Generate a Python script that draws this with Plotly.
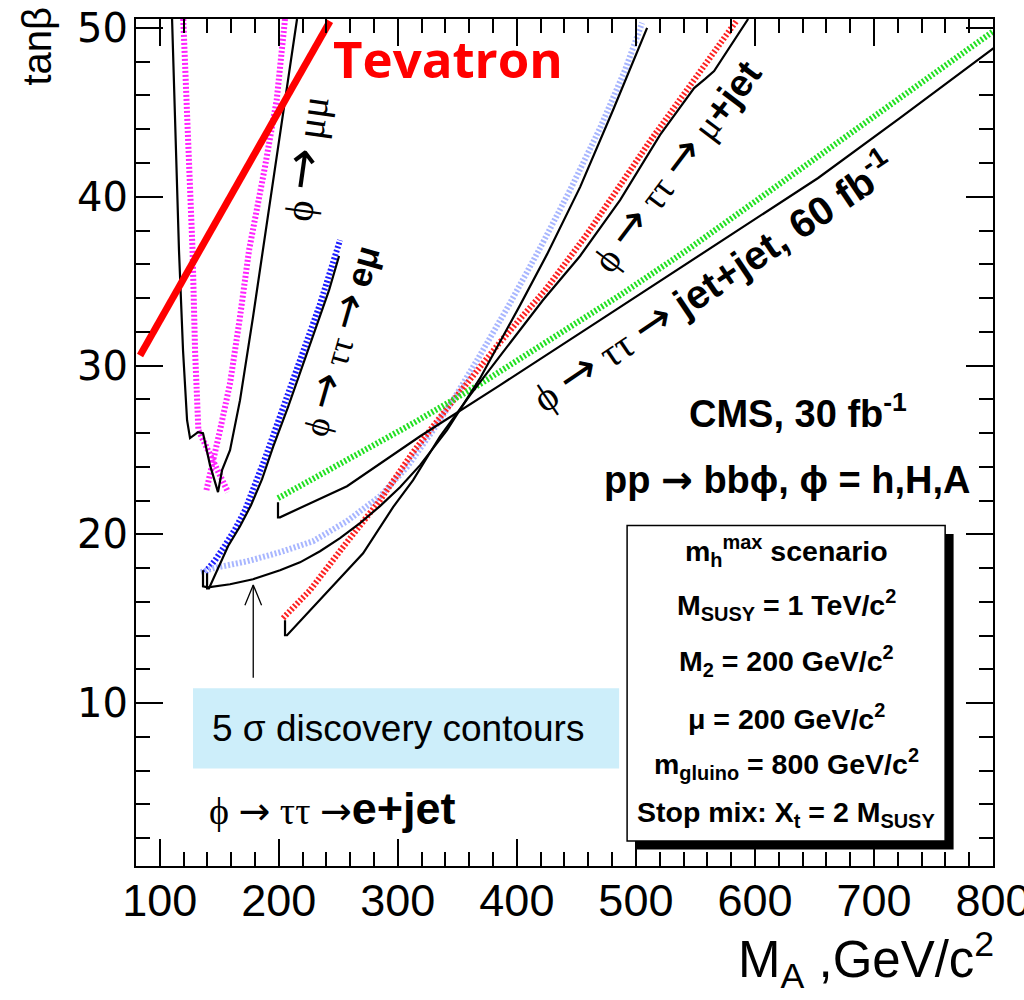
import plotly.graph_objects as go

# ---------------------------------------------------------------------------
# Axis ranges
X_RANGE = [80, 800.01]
Y_RANGE = [0.35, 50.53]

# Tevatron reach
tevatron_ma = [83.4, 243.0]
tevatron_tb = [30.6, 50.4]

# phi -> mu mu, solid contour
mumu_ma = [110.3, 113.6, 116.1, 119.5, 122.9, 125.4, 132.1, 136.3, 142.2, 148.9,
           152.3, 159.0, 167.4, 178.3, 186.7, 199.3, 209.4, 215.3]
mumu_tb = [50.53, 42.77, 36.84, 30.91, 26.76, 25.70, 26.05, 25.99, 24.10, 22.50,
           23.80, 24.99, 27.95, 32.87, 36.84, 42.77, 47.51, 50.53]

# phi -> mu mu, dotted contour (two branches)
mumu_dot_left_ma = [119.7, 123.9, 127.5, 129.6, 132.4, 157.3]
mumu_dot_left_tb = [50.53, 43.78, 36.84, 30.91, 26.17, 22.50]
mumu_dot_right_ma = [205.2, 198.2, 188.4, 175.0, 167.4, 159.0, 150.6, 138.8]
mumu_dot_right_tb = [50.53, 45.73, 41.78, 36.84, 32.89, 28.94, 26.17, 22.50]

# phi -> tau tau -> e mu
emu_dot_ma = [138.0, 146.4, 154.8, 163.2, 171.6, 180.0, 188.4, 201.0, 217.8, 234.6, 251.4]
emu_dot_tb = [17.75, 18.46, 19.35, 20.30, 21.43, 22.91, 24.51, 27.00, 30.32, 33.64, 37.43]
emu_ma = [139.7, 139.7, 141.3, 149.7, 157.3, 167.4, 176.6, 185.9, 195.1, 207.7,
          218.7, 230.4, 242.2, 250.6]
emu_tb = [17.69, 16.80, 16.80, 18.11, 19.29, 20.48, 21.72, 23.27, 25.16, 27.53,
          29.73, 32.10, 34.47, 36.49]

# phi -> tau tau -> e + jet
ejet_dot_ma = [134.6, 144.7, 173.3, 201.0, 228.7, 257.3, 285.0, 307.7, 329.6, 346.4,
               369.1, 394.3, 419.5, 444.7, 469.9, 490.9, 505.2]
ejet_dot_tb = [17.75, 17.99, 18.40, 18.94, 19.59, 20.78, 22.26, 23.98, 26.17, 27.95,
               30.62, 33.70, 36.96, 40.40, 44.07, 47.51, 50.30]
ejet_ma = [136.3, 136.3, 140.5, 159.0, 178.3, 201.0, 217.8, 234.6, 251.4, 268.2,
           285.0, 301.8, 318.7, 341.3, 369.1, 402.7, 425.4, 453.1, 480.8, 509.4]
ejet_tb = [17.87, 16.92, 16.86, 17.04, 17.34, 17.87, 18.34, 19.00, 19.77, 20.66,
           21.67, 22.79, 24.10, 26.17, 29.25, 33.58, 36.60, 40.57, 45.14, 50.00]

# phi -> tau tau -> mu + jet
mujet_dot_ma = [203.5, 226.2, 253.9, 285.0, 312.8, 341.3, 385.9, 424.5, 459.0, 511.9, 548.9, 585.0]
mujet_dot_tb = [15.03, 16.69, 19.24, 22.02, 24.87, 27.47, 31.39, 34.53, 37.79, 43.30, 46.92, 50.47]
mujet_ma = [205.2, 205.2, 206.9, 243.0, 270.8, 296.0, 312.8, 335.5, 360.7, 390.9,
            422.0, 453.1, 486.7, 520.3, 548.9, 558.2, 565.7, 594.3]
mujet_tb = [14.91, 14.02, 14.02, 16.80, 18.88, 21.61, 23.21, 25.81, 28.25, 31.03,
            33.88, 36.49, 39.80, 43.66, 46.44, 46.98, 47.45, 50.53]

# phi -> tau tau -> jet + jet (60 fb-1)
jj_dot_ma = [199.3, 257.3, 312.8, 369.1, 427.9, 486.7, 543.0, 596.0, 653.1, 722.0, 801.8]
jj_dot_tb = [22.14, 24.39, 26.58, 28.90, 31.51, 34.17, 36.84, 39.51, 42.29, 45.85, 49.88]
jj_ma = [199.3, 199.3, 201.0, 257.3, 318.7, 385.9, 469.9, 559.8, 653.1, 722.0, 801.8]
jj_tb = [21.90, 21.01, 21.01, 22.85, 25.81, 28.84, 32.69, 36.84, 41.11, 44.67, 48.87]

# Arrow pointing at the lower 5 sigma curve
arrow_ma = 178.5
arrow_tb_tail = 11.5
arrow_tb_tip = 17.0

# Info box and label box (data coordinates)
info_box = dict(x0=492.6, x1=759.8, y0=1.83, y1=20.52)
label_box = dict(x0=127.9, x1=485.9, y0=6.13, y1=10.88)

info_lines = [
    "m<sub>h</sub><sup>max</sup> scenario",
    "M<sub>SUSY</sub> = 1 TeV/c<sup>2</sup>",
    "M<sub>2</sub> = 200 GeV/c<sup>2</sup>",
    "μ = 200 GeV/c<sup>2</sup>",
    "m<sub>gluino</sub> = 800 GeV/c<sup>2</sup>",
    "Stop mix: X<sub>t</sub> = 2 M<sub>SUSY</sub>",
]
info_line_tb = [19.0, 15.8, 12.48, 9.16, 6.37, 3.41]

# ---------------------------------------------------------------------------
SERIF = "Liberation Serif, Times New Roman, serif"
SANS = "Liberation Sans, Arial, sans-serif"


def bsans(s, size=None):
    style = "font-family:'Liberation Sans', Arial, sans-serif"
    if size:
        style += ";font-size:%dpx" % size
    return "<span style=\"" + style + "\"><b>" + s + "</b></span>"


def arrow(size=None, thin=False):
    family = "'DejaVu Sans ExtraLight', 'DejaVu Sans'" if thin else "'DejaVu Sans'"
    style = "font-family:" + family
    if size:
        style += ";font-size:%dpx" % size
    return "<span style=\"" + style + "\">\u2192</span>"


ARROW = arrow()
PHI = "\u03d5"

fig = go.Figure()


def add_line(x, y, color, width, dash="solid"):
    fig.add_trace(go.Scatter(x=x, y=y, mode="lines",
                             line=dict(color=color, width=width, dash=dash),
                             hoverinfo="skip", showlegend=False))


DOT = "2px,2px"
# dotted (hatched) curves
add_line(mumu_dot_left_ma, mumu_dot_left_tb, "#ff22ff", 6, DOT)
add_line(mumu_dot_right_ma, mumu_dot_right_tb, "#ff22ff", 6, DOT)
add_line(emu_dot_ma, emu_dot_tb, "#1c1cff", 6, DOT)
add_line(ejet_dot_ma, ejet_dot_tb, "#a8b6ff", 6, DOT)
add_line(mujet_dot_ma, mujet_dot_tb, "#ff2020", 6, DOT)
add_line(jj_dot_ma, jj_dot_tb, "#22e022", 6, DOT)

# solid contours
for xs, ys in [(mumu_ma, mumu_tb), (emu_ma, emu_tb), (ejet_ma, ejet_tb),
               (mujet_ma, mujet_tb), (jj_ma, jj_tb)]:
    add_line(xs, ys, "black", 2.2)

# Tevatron line
add_line(tevatron_ma, tevatron_tb, "#ff0000", 7)

# arrow
head_dx, head_dy = 7.0, 1.2
fig.add_trace(go.Scatter(
    x=[arrow_ma, arrow_ma, None, arrow_ma - head_dx, arrow_ma, arrow_ma + head_dx],
    y=[arrow_tb_tail, arrow_tb_tip, None, arrow_tb_tip - head_dy, arrow_tb_tip, arrow_tb_tip - head_dy],
    mode="lines", line=dict(color="black", width=1.3), hoverinfo="skip", showlegend=False))

shapes = [
    dict(type="rect", xref="x", yref="y", layer="below", line=dict(width=0),
         fillcolor="#cdeefa", **label_box),
    dict(type="rect", xref="x", yref="y", line=dict(width=0), fillcolor="black",
         x0=info_box["x0"] + 7.1, x1=info_box["x1"] + 7.1,
         y0=info_box["y0"] - 0.5, y1=info_box["y1"] - 0.5),
    dict(type="rect", xref="x", yref="y", line=dict(width=1.5, color="black"),
         fillcolor="white", **info_box),
]

anns = []


def ann(text, x, y, size, family=SANS, angle=0, xanchor="center", color="black"):
    anns.append(dict(text=text, x=x, y=y, xref="x", yref="y", showarrow=False,
                     textangle=angle, xanchor=xanchor, yanchor="middle",
                     font=dict(family=family, size=size, color=color)))


ann("<b>Tevatron</b>", 243.5, 48.2, 51, family="Open Sans", xanchor="left", color="#ff0000")
ann(PHI + " " + arrow(50, True) + " μμ", 220.3, 42.3, 40, family=SERIF, angle=-82)
ann(PHI + " " + arrow(44, True) + " ττ " + arrow(44, True) + " " + bsans("eμ"), 249.5, 31.5, 35,
    family=SERIF, angle=-74)
ann(PHI + " " + arrow(46, True) + " ττ " + arrow(46, True) + " μ" + bsans("+jet"), 532.0, 41.9, 38,
    family=SERIF, angle=-53)
ann(PHI + " " + arrow(46, True) + " ττ " + arrow(46, True) + " " + bsans("jet+jet, 60 fb<sup>-1</sup>"),
    564.5, 35.0, 40, family=SERIF, angle=-34)
ann("<b>CMS, 30 fb<sup>-1</sup></b>", 636.0, 27.3, 38)
ann("<b>pp " + ARROW + " bb" + PHI + ", " + PHI + " = h,H,A</b>", 627.0, 23.2, 38)
ann("5 σ discovery contours", 142.2, 8.5, 37, xanchor="left")
ann(PHI + " " + arrow(None, True) + " ττ " + arrow(None, True) + bsans("e+jet", 45), 140.0, 3.76, 38,
    family=SERIF, xanchor="left")

box_cx = (info_box["x0"] + info_box["x1"]) / 2
for txt, yy in zip(info_lines, info_line_tb):
    ann("<b>" + txt + "</b>", box_cx, yy, 28.5)

# axis titles
anns.append(dict(text="M<sub>A</sub> ,GeV/c<sup>2</sup>", xref="paper", yref="paper",
                 x=1.003, y=-0.111, xanchor="right", yanchor="middle", showarrow=False,
                 font=dict(family=SANS, size=51, color="black")))
anns.append(dict(text="tanβ", xref="paper", yref="paper", x=-0.115, y=0.968,
                 xanchor="center", yanchor="middle", textangle=-90, showarrow=False,
                 font=dict(family=SANS, size=40, color="black")))

fig.update_layout(
    width=1024, height=1000,
    margin=dict(l=136, r=31, t=19, b=134, autoexpand=False),
    paper_bgcolor="white", plot_bgcolor="white",
    shapes=shapes, annotations=anns,
    xaxis=dict(range=X_RANGE, showgrid=False, zeroline=False, automargin=False,
               showline=True, linecolor="black", linewidth=2, mirror="allticks",
               ticks="inside", ticklen=27, tickwidth=1.5, tickcolor="black",
               tick0=100, dtick=100,
               minor=dict(ticks="inside", ticklen=14, tickwidth=1.5, tickcolor="black", dtick=20),
               tickfont=dict(family=SANS, size=45, color="black"),
               ticklabelstandoff=-6, ticklabeloverflow="allow"),
    yaxis=dict(range=Y_RANGE, showgrid=False, zeroline=False, automargin=False,
               showline=True, linecolor="black", linewidth=2, mirror="allticks",
               ticks="inside", ticklen=27, tickwidth=1.5, tickcolor="black",
               tick0=0, dtick=10,
               minor=dict(ticks="inside", ticklen=14, tickwidth=1.5, tickcolor="black", dtick=2),
               tickfont=dict(family="DejaVu Sans", size=40, color="black"),
               ticklabelstandoff=-2, ticklabeloverflow="allow"),
)

fig.write_html("out.html")
